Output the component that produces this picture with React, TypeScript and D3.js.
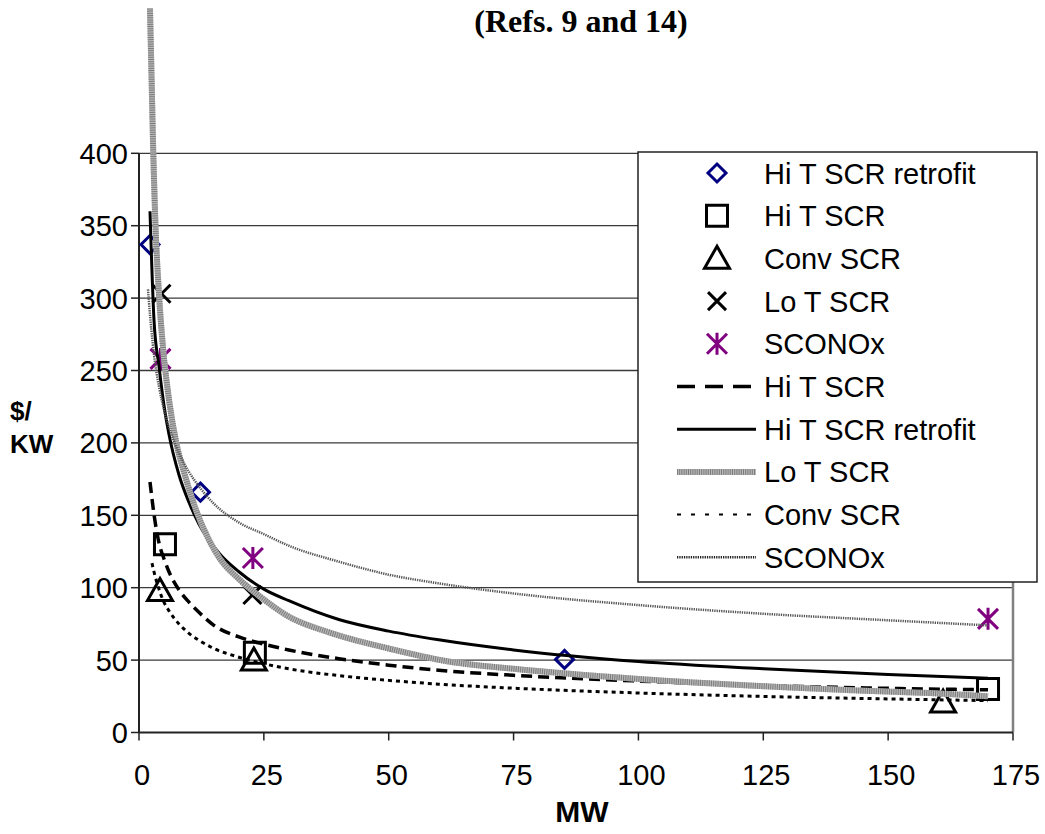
import React from "react";
import * as d3 from "d3";

// ---------- data ----------
const xTicks = [0, 25, 50, 75, 100, 125, 150, 175];
const yTicks = [0, 50, 100, 150, 200, 250, 300, 350, 400];

// marker series [MW, $/KW]
const hiTRetrofitPts: [number, number][] = [[2.2, 337], [12.3, 166], [85.2, 50.5]];
const hiTPts: [number, number][] = [[5.2, 130], [23.2, 55], [170, 30]];
const convPts: [number, number][] = [[4.2, 98], [23, 50], [161, 21]];
const loTPts: [number, number][] = [[4.5, 303], [22.7, 95]];
const scPts: [number, number][] = [[4.3, 258], [22.8, 120.5], [170, 78.5]];

// trend curves [MW, $/KW]
const hiTCurve: [number, number][] = [[2.2, 173], [3.2, 146], [4, 131], [5, 120], [6, 111], [8, 98.5], [10, 90], [12, 83], [15, 74], [20, 66], [25, 61], [30, 57], [40, 51], [50, 46.5], [60, 43], [75, 39.5], [100, 35.5], [125, 32.5], [150, 30.5], [170, 29.5]];
const hiTRetrofitCurve: [number, number][] = [[2.2, 360], [3, 285], [4, 253], [5, 226], [6, 206], [8, 178], [10, 159], [12, 144], [16, 124], [20, 111], [25, 99], [30, 91], [40, 78], [50, 70], [60, 64], [75, 57], [100, 49], [125, 44], [150, 40], [170, 37.5]];
const loTCurve: [number, number][] = [[2.2, 500], [2.5, 455], [2.86, 400], [3.3, 350], [4, 303], [4.8, 266], [6, 230], [7.6, 198], [9, 180], [11.6, 152], [14, 133], [16.2, 120], [20, 106], [24.2, 94], [30, 80], [38.2, 69], [50, 58], [62, 49], [75, 44], [100, 37], [125, 32], [144, 29], [160, 27], [170, 25]];
const convCurve: [number, number][] = [[2.6, 117], [3, 111], [4, 99], [5, 90], [6, 84], [8, 75], [10, 68.5], [12, 63.7], [15, 58], [20, 52], [25, 47.5], [30, 44], [40, 39.3], [50, 36], [60, 33.4], [75, 30.6], [100, 27.3], [125, 24.9], [150, 23.2], [170, 22]];
const scCurve: [number, number][] = [[1.8, 306], [2, 297], [3, 261], [4, 239], [5, 223], [6, 211], [8, 193], [10, 180], [12, 170], [15, 158], [20, 145], [25, 137], [30, 129], [40, 118], [50, 109], [60, 103], [75, 96], [100, 88], [125, 82], [150, 77.5], [170, 74]];

const legendLabels = ["Hi T SCR retrofit", "Hi T SCR", "Conv SCR", "Lo T SCR", "SCONOx", "Hi T SCR", "Hi T SCR retrofit", "Lo T SCR", "Conv SCR", "SCONOx"];

// ---------- layout ----------
const W = 1045, H = 834;
const x = d3.scaleLinear().domain([0, 175]).range([139, 1013]);
const y = d3.scaleLinear().domain([0, 400]).range([732.5, 153.3]);
const FONT = "Liberation Sans, Arial, sans-serif";

const line = d3.line<[number, number]>().x(d => x(d[0])).y(d => y(d[1])).curve(d3.curveMonotoneX);

const NAVY = "#000080";
const PURPLE = "#800080";

function diamond(cx: number, cy: number, r = 9) {
  return `M${cx},${cy - r}L${cx + r},${cy}L${cx},${cy + r}L${cx - r},${cy}Z`;
}
function square(cx: number, cy: number, s = 10.5) {
  return `M${cx - s},${cy - s}H${cx + s}V${cy + s}H${cx - s}Z`;
}
function triangle(cx: number, cy: number, w = 12.5, h = 22) {
  return `M${cx},${cy - h * 0.55}L${cx + w},${cy + h * 0.45}L${cx - w},${cy + h * 0.45}Z`;
}
function cross(cx: number, cy: number, r = 9) {
  return `M${cx - r},${cy - r}L${cx + r},${cy + r}M${cx - r},${cy + r}L${cx + r},${cy - r}`;
}
function asterisk(cx: number, cy: number, r = 10) {
  return `M${cx - r},${cy - r}L${cx + r},${cy + r}M${cx - r},${cy + r}L${cx + r},${cy - r}M${cx},${cy - r - 1}L${cx},${cy + r + 1}`;
}

function Marker({ kind, cx, cy }: { kind: string; cx: number; cy: number }) {
  if (kind === "diamond") return <path d={diamond(cx, cy)} fill="none" stroke={NAVY} strokeWidth={3} />;
  if (kind === "square") return <path d={square(cx, cy)} fill="none" stroke="#000" strokeWidth={3} />;
  if (kind === "triangle") return <path d={triangle(cx, cy)} fill="none" stroke="#000" strokeWidth={3} strokeLinejoin="miter" />;
  if (kind === "cross") return <path d={cross(cx, cy)} fill="none" stroke="#000" strokeWidth={3} />;
  return <path d={asterisk(cx, cy)} fill="none" stroke={PURPLE} strokeWidth={3} />;
}

function CurveStyle({ kind, d, legend }: { kind: string; d: string; legend?: boolean }) {
  if (kind === "dash") return <path d={d} fill="none" stroke="#000" strokeWidth={3.5} strokeDasharray={legend ? "18 10" : "11 6"} />;
  if (kind === "solid") return <path d={d} fill="none" stroke="#000" strokeWidth={3} />;
  if (kind === "hatch")
    return (
      <g>
        <path d={d} fill="none" stroke="#b8b8b8" strokeWidth={6} />
        <path d={d} fill="none" stroke="#7c7c7c" strokeWidth={6} strokeDasharray="1 1.2" />
      </g>
    );
  if (kind === "short") return <path d={d} fill="none" stroke="#000" strokeWidth={legend ? 2 : 3} strokeDasharray={legend ? "4 10" : "4 4"} />;
  return <path d={d} fill="none" stroke={legend ? "#222" : "#555"} strokeWidth={2.5} strokeDasharray="1.3 1" />;
}

const markerSeries: { kind: string; pts: [number, number][] }[] = [
  { kind: "diamond", pts: hiTRetrofitPts },
  { kind: "square", pts: hiTPts },
  { kind: "triangle", pts: convPts },
  { kind: "cross", pts: loTPts },
  { kind: "asterisk", pts: scPts },
];
const curveSeries: { kind: string; pts: [number, number][] }[] = [
  { kind: "dash", pts: hiTCurve },
  { kind: "solid", pts: hiTRetrofitCurve },
  { kind: "hatch", pts: loTCurve },
  { kind: "short", pts: convCurve },
  { kind: "dot", pts: scCurve },
];

export default function App() {
  const x0 = x(0), x1 = x(175), y0 = y(0), y1 = y(400);
  const legX = 638, legY = 152, legW = 399, legH = 430;
  const rowY = (i: number) => 173 + i * 42.7;
  return (
    <svg width={W} height={H} style={{ position: "absolute", left: 0, top: 0, background: "#fff" }}>
      {/* title */}
      <text x={581} y={32} textAnchor="middle" fontFamily="Liberation Serif, Times New Roman, serif" fontWeight="bold" fontSize={32}>
        (Refs. 9 and 14)
      </text>

      {/* gridlines */}
      {yTicks.filter(t => t > 0).map(t => (
        <line key={t} x1={x0} x2={x1} y1={y(t)} y2={y(t)} stroke="#3a3a3a" strokeWidth={1.3} />
      ))}
      {/* plot frame right */}
      <line x1={x1} x2={x1} y1={y1} y2={y0} stroke="#808080" strokeWidth={2.5} />

      {/* axes */}
      <line x1={x0} x2={x0} y1={y1} y2={y0} stroke="#222" strokeWidth={2} />
      <line x1={x0} x2={x1} y1={y0} y2={y0} stroke="#222" strokeWidth={2} />
      {yTicks.map(t => (
        <g key={t}>
          <line x1={x0 - 8} x2={x0} y1={y(t)} y2={y(t)} stroke="#222" strokeWidth={1.5} />
          <text x={x0 - 11} y={y(t) + 10.5} textAnchor="end" fontFamily={FONT} fontSize={29}>{t}</text>
        </g>
      ))}
      {xTicks.map(t => (
        <g key={t}>
          <line x1={x(t)} x2={x(t)} y1={y0} y2={y0 + 8} stroke="#222" strokeWidth={1.5} />
          <text x={x(t) + 3} y={y0 + 52} textAnchor="middle" fontFamily={FONT} fontSize={29}>{t}</text>
        </g>
      ))}

      {/* axis titles */}
      <text x={10} y={420} fontFamily={FONT} fontWeight="bold" fontSize={26}>$/</text>
      <text x={10} y={453} fontFamily={FONT} fontWeight="bold" fontSize={26}>KW</text>
      <text x={582} y={822} textAnchor="middle" fontFamily={FONT} fontWeight="bold" fontSize={30}>MW</text>

      {/* markers */}
      {markerSeries.map(s => s.pts.map((p, i) => <Marker key={s.kind + i} kind={s.kind} cx={x(p[0])} cy={y(p[1])} />))}

      {/* trend curves */}
      {curveSeries.map(s => <CurveStyle key={s.kind} kind={s.kind} d={line(s.pts) || ""} />)}

      {/* legend */}
      <rect x={legX} y={legY} width={legW} height={legH} fill="#fff" stroke="#222" strokeWidth={1.5} />
      {legendLabels.map((lab, i) => {
        const cy = rowY(i);
        let sym: React.ReactNode = null;
        if (i < 5) sym = <Marker kind={markerSeries[i].kind} cx={717} cy={cy} />;
        else sym = <CurveStyle kind={curveSeries[i - 5].kind} d={`M677,${cy}L756,${cy}`} legend />;
        return (
          <g key={i}>
            {sym}
            <text x={764} y={cy + 10.5} fontFamily={FONT} fontSize={29}>{lab}</text>
          </g>
        );
      })}
    </svg>
  );
}
